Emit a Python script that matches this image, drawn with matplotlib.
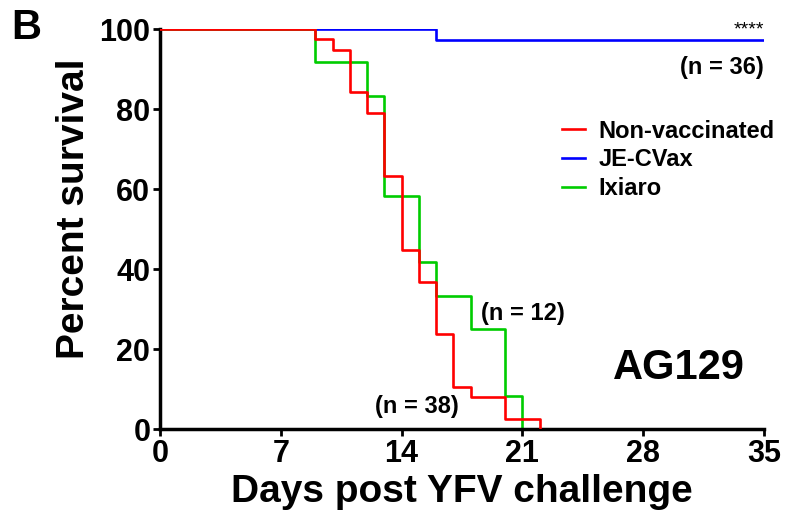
import matplotlib.pyplot as plt

# Kaplan-Meier step data (day, percent survival)
nonvax_days = [0, 9, 10, 11, 12, 13, 14, 15, 16, 17, 18, 20, 22]
nonvax_pct = [100, 97.4, 94.7, 84.2, 78.9, 63.2, 44.7, 36.8, 23.7, 10.5, 7.9, 2.6, 0]

jecvax_days = [0, 16, 35]
jecvax_pct = [100, 97.2, 97.2]

ixiaro_days = [0, 9, 12, 13, 15, 16, 18, 20, 21]
ixiaro_pct = [100, 91.7, 83.3, 58.3, 41.7, 33.3, 25, 8.3, 0]

x_ticks = [0, 7, 14, 21, 28, 35]
y_ticks = [0, 20, 40, 60, 80, 100]

plt.rcParams['font.family'] = ['Liberation Sans', 'DejaVu Sans']
plt.rcParams['font.weight'] = 'bold'

fig = plt.figure(figsize=(7.9, 5.29), dpi=100)
ax = fig.add_axes([0.2025, 0.189, 0.7645, 0.756])

ax.step(nonvax_days, nonvax_pct, where='post', color='#ff0000', lw=1.9, label='Non-vaccinated', zorder=3)
ax.step(jecvax_days, jecvax_pct, where='post', color='#0000ff', lw=1.9, label='JE-CVax', zorder=2)
ax.step(ixiaro_days, ixiaro_pct, where='post', color='#00cc00', lw=1.9, label='Ixiaro', zorder=2)

ax.set_xlim(0, 35)
ax.set_ylim(0, 100)
ax.set_xticks(x_ticks)
ax.set_yticks(y_ticks)
ax.tick_params(labelsize=22, width=2, length=5, direction='out', pad=2)
for side in ['top', 'right']:
    ax.spines[side].set_visible(False)
for side in ['left', 'bottom']:
    ax.spines[side].set_linewidth(2.5)

ax.set_xlabel('Days post YFV challenge', fontsize=28, fontweight='bold', labelpad=4)
ax.set_ylabel('Percent survival', fontsize=28, fontweight='bold')
ax.yaxis.set_label_coords(-0.112, 0.55)

leg = ax.legend(loc='upper left', bbox_to_anchor=(0.63, 0.827), frameon=False,
                prop={'size': 17, 'weight': 'bold'}, handlelength=1.0,
                labelspacing=0.25, handletextpad=0.55)

ax.text(35, 98.6, '****', ha='right', va='baseline', fontsize=14, fontweight='normal')
ax.text(35, 90.5, '(n = 36)', ha='right', va='center', fontsize=17)
ax.text(18.6, 29, '(n = 12)', ha='left', va='center', fontsize=17)
ax.text(12.45, 5.75, '(n = 38)', ha='left', va='center', fontsize=17)
ax.text(33.9, 15.25, 'AG129', ha='right', va='center', fontsize=30)
fig.text(0.014, 0.985, 'B', ha='left', va='top', fontsize=30, fontweight='bold')

fig.savefig('out.png', dpi=100)
